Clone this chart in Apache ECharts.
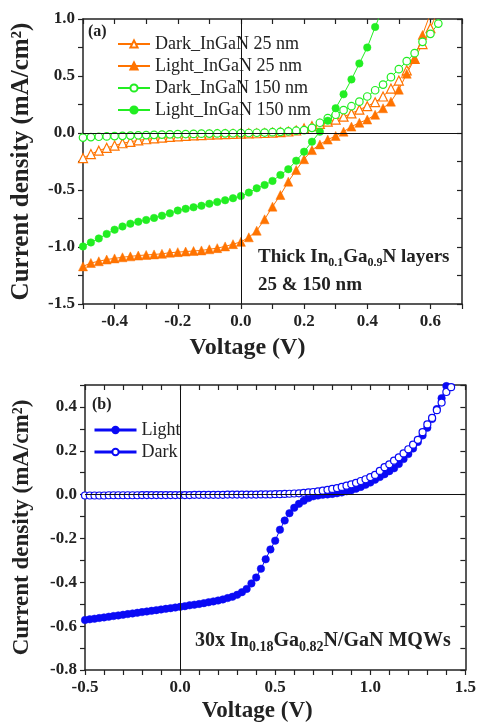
<!DOCTYPE html>
<html>
<head>
<meta charset="utf-8">
<script src="https://cdn.jsdelivr.net/npm/echarts@6/dist/echarts.min.js"></script>
<style>html,body{margin:0;padding:0;background:#fff;}#c{width:479px;height:724px;}</style>
</head>
<body>
<div id="c"></div>
<script>
// ---------- Panel (a): thick InGaN layers ----------
const voltsA = [-0.5,-0.475,-0.45,-0.425,-0.4,-0.375,-0.35,-0.325,-0.3,-0.275,-0.25,-0.225,-0.2,-0.175,-0.15,-0.125,-0.1,-0.075,-0.05,-0.025,0,0.025,0.05,0.075,0.1,0.125,0.15,0.175,0.2,0.225,0.25,0.275,0.3,0.325,0.35,0.375,0.4,0.425,0.45,0.475,0.5,0.525,0.55,0.575,0.6,0.625];
const dark25 = [-0.22,-0.185,-0.155,-0.13,-0.11,-0.09,-0.077,-0.065,-0.055,-0.047,-0.04,-0.034,-0.029,-0.025,-0.021,-0.018,-0.015,-0.012,-0.01,-0.008,-0.006,-0.004,-0.002,0.0,0.003,0.007,0.013,0.022,0.04,0.06,0.08,0.1,0.118,0.143,0.172,0.205,0.235,0.27,0.32,0.39,0.46,0.55,0.65,0.78,0.92,1.08];
const light25 = [-1.17,-1.14,-1.125,-1.11,-1.1,-1.09,-1.082,-1.075,-1.07,-1.065,-1.06,-1.05,-1.045,-1.04,-1.035,-1.03,-1.02,-1.01,-0.995,-0.975,-0.955,-0.915,-0.857,-0.757,-0.646,-0.544,-0.427,-0.325,-0.23,-0.15,-0.1,-0.058,-0.026,0.012,0.056,0.09,0.118,0.16,0.217,0.275,0.38,0.52,0.65,0.86,1.05,null];
const dark150 = [-0.04,-0.036,-0.033,-0.03,-0.027,-0.025,-0.023,-0.02,-0.018,-0.016,-0.014,-0.012,-0.01,-0.009,-0.008,-0.006,-0.005,-0.004,-0.003,-0.002,-0.001,0,0.002,0.004,0.007,0.01,0.015,0.02,0.025,0.045,0.09,0.13,0.16,0.2,0.235,0.275,0.32,0.375,0.425,0.49,0.56,0.63,0.7,0.8,0.87,0.96];
const light150 = [-0.995,-0.96,-0.925,-0.885,-0.848,-0.82,-0.795,-0.778,-0.763,-0.745,-0.725,-0.705,-0.68,-0.665,-0.652,-0.638,-0.62,-0.605,-0.59,-0.572,-0.553,-0.523,-0.485,-0.456,-0.42,-0.368,-0.318,-0.243,-0.164,-0.076,0.011,0.108,0.217,0.34,0.47,0.61,0.75,0.93,1.1,null,null,null,null,null,null,null];
const namesA = ['Dark_InGaN 25 nm','Light_InGaN 25 nm','Dark_InGaN 150 nm','Light_InGaN 150 nm'];

// ---------- Panel (b): MQWs ----------
const voltsB = [-0.5,-0.475,-0.45,-0.425,-0.4,-0.375,-0.35,-0.325,-0.3,-0.275,-0.25,-0.225,-0.2,-0.175,-0.15,-0.125,-0.1,-0.075,-0.05,-0.025,0,0.025,0.05,0.075,0.1,0.125,0.15,0.175,0.2,0.225,0.25,0.275,0.3,0.325,0.35,0.375,0.4,0.425,0.45,0.475,0.5,0.525,0.55,0.575,0.6,0.625,0.65,0.675,0.7,0.725,0.75,0.775,0.8,0.825,0.85,0.875,0.9,0.925,0.95,0.975,1.0,1.025,1.05,1.075,1.1,1.125,1.15,1.175,1.2,1.225,1.25,1.275,1.3,1.325,1.35,1.375,1.4,1.425,1.45];
const lightB = [-0.572,-0.569,-0.566,-0.563,-0.56,-0.557,-0.554,-0.551,-0.548,-0.545,-0.542,-0.539,-0.536,-0.533,-0.53,-0.527,-0.524,-0.521,-0.518,-0.515,-0.512,-0.509,-0.505,-0.502,-0.499,-0.495,-0.491,-0.487,-0.483,-0.478,-0.472,-0.466,-0.457,-0.445,-0.43,-0.405,-0.378,-0.338,-0.295,-0.25,-0.21,-0.16,-0.118,-0.085,-0.06,-0.042,-0.028,-0.016,-0.008,-0.004,-0.001,0.001,0.003,0.006,0.01,0.015,0.02,0.027,0.035,0.045,0.055,0.068,0.08,0.093,0.107,0.12,0.14,0.162,0.185,0.21,0.24,0.27,0.305,0.345,0.39,0.44,0.495,0.55,null];
const darkB = [-0.004,-0.004,-0.004,-0.004,-0.004,-0.003,-0.003,-0.003,-0.003,-0.003,-0.003,-0.003,-0.002,-0.002,-0.002,-0.002,-0.002,-0.002,-0.002,-0.002,-0.002,-0.002,-0.002,-0.001,-0.001,-0.001,-0.001,-0.001,-0.001,-0.001,0,0,0,0,0,0,0,0.001,0.001,0.001,0.002,0.002,0.003,0.004,0.005,0.006,0.008,0.01,0.012,0.015,0.018,0.022,0.026,0.03,0.035,0.041,0.047,0.054,0.062,0.07,0.08,0.09,0.108,0.125,0.138,0.155,0.17,0.188,0.207,0.228,0.25,0.285,0.32,0.35,0.385,0.42,0.468,0.49,0.53];
const namesB = ['Light','Dark'];

const ORANGE = '#FF7300', GREEN = '#22EE22', BLUE = '#0A0AF5';
const FONT = 'Liberation Serif';

function pairs(xs, ys) { return xs.map((x, i) => [x, ys[i]]); }
function labelEvery(step) {
  return v => { const k = Math.round(v * 100), s = Math.round(step * 100); return (k % s === 0) ? v.toFixed(1) : ''; };
}
const frame = { show: true, lineStyle: { color: '#222', width: 1.5 } };
const tickLbl = { fontFamily: FONT, fontWeight: 'bold', fontSize: 17, color: '#222' };
function nameTxt(size, pad) { return { fontFamily: FONT, fontWeight: 'bold', fontSize: size, color: '#222', padding: pad }; }

function xAx(grid, min, max, step, lblStep, name, gap, size, pad) {
  return [
    { type: 'value', gridIndex: grid, position: 'bottom', min, max, interval: step,
      axisLine: { ...frame, onZero: false }, splitLine: { show: false },
      axisTick: { show: true, inside: false, length: 5, lineStyle: { color: '#222', width: 1.2 } },
      axisLabel: { ...tickLbl, margin: 9, formatter: labelEvery(lblStep), showMinLabel: true, showMaxLabel: true },
      name, nameLocation: 'middle', nameGap: gap, nameTextStyle: nameTxt(size, pad) },
    { type: 'value', gridIndex: grid, position: 'top', min, max, interval: step,
      axisLine: { ...frame, onZero: false }, splitLine: { show: false },
      axisTick: { show: true, inside: true, length: 5, lineStyle: { color: '#222', width: 1.2 } },
      axisLabel: { show: false } }
  ];
}
function yAx(grid, min, max, step, lblStep, name, gap, size) {
  return [
    { type: 'value', gridIndex: grid, position: 'left', min, max, interval: step,
      axisLine: { ...frame, onZero: false }, splitLine: { show: false },
      axisTick: { show: true, inside: false, length: 5, lineStyle: { color: '#222', width: 1.2 } },
      axisLabel: { ...tickLbl, margin: 8, formatter: labelEvery(lblStep), showMinLabel: true, showMaxLabel: true },
      name, nameLocation: 'middle', nameGap: gap, nameTextStyle: nameTxt(size, 0) },
    { type: 'value', gridIndex: grid, position: 'right', min, max, interval: step,
      axisLine: { ...frame, onZero: false }, splitLine: { show: false },
      axisTick: { show: true, inside: true, length: 5, lineStyle: { color: '#222', width: 1.2 } },
      axisLabel: { show: false } }
  ];
}
const zeroLines = {
  silent: true, symbol: 'none', animation: false,
  label: { show: false },
  lineStyle: { color: '#111', width: 1, type: 'solid' },
  data: [{ xAxis: 0 }, { yAxis: 0 }]
};
function ser(name, xi, yi, data, symbol, size, color, hollow, extra) {
  return Object.assign({
    name, type: 'line', xAxisIndex: xi, yAxisIndex: yi, data,
    symbol, symbolSize: size, showSymbol: true, connectNulls: false,
    lineStyle: { color, width: 1 },
    itemStyle: hollow ? { color: '#fff', borderColor: color, borderWidth: 1.2 } : { color, borderColor: color, borderWidth: 0.5 },
    animation: false, z: 3
  }, extra || {});
}

const chart = echarts.init(document.getElementById('c'), null, { renderer: 'canvas' });
chart.setOption({
  backgroundColor: '#fff',
  animation: false,
  grid: [
    { left: 83, right: 17, top: 19, height: 285 },
    { left: 85, right: 12, top: 385, height: 288 }
  ],
  xAxis: [
    ...xAx(0, -0.5, 0.7, 0.1, 0.2, 'Voltage (V)', 32, 24, [0, 50, 0, 0]),
    ...xAx(1, -0.5, 1.5, 0.1, 0.5, 'Voltage (V)', 30, 23, [0, 36, 0, 0])
  ],
  yAxis: [
    ...yAx(0, -1.5, 1.0, 0.25, 0.5, 'Current density (mA/cm²)', 49, 25),
    ...yAx(1, -0.8, 0.5, 0.1, 0.2, 'Current density (mA/cm²)', 51, 23)
  ],
  legend: [
    { orient: 'vertical', left: 112, top: 30, itemWidth: 32, itemHeight: 9, itemGap: 4,
      textStyle: { fontFamily: FONT, fontSize: 18, color: '#222', lineHeight: 18 },
      data: namesA },
    { orient: 'vertical', left: 88, top: 416, itemWidth: 42, itemHeight: 8, itemGap: 4,
      textStyle: { fontFamily: FONT, fontSize: 18, color: '#222', lineHeight: 18 },
      data: namesB.map(n => ({ name: n, lineStyle: { width: 3 } })) }
  ],
  graphic: [
    { type: 'text', left: 88, top: 24, style: { text: '(a)', font: 'bold 16px "Liberation Serif"', fill: '#222' } },
    { type: 'text', left: 92, top: 397, style: { text: '(b)', font: 'bold 16px "Liberation Serif"', fill: '#222' } },
    { type: 'text', left: 258, top: 245, style: {
        text: '{b|Thick In}{s|0.1}{b|Ga}{s|0.9}{b|N layers}',
        rich: {
          b: { fontFamily: FONT, fontWeight: 'bold', fontSize: 19, fill: '#222', lineHeight: 22 },
          s: { fontFamily: FONT, fontWeight: 'bold', fontSize: 12, fill: '#222', lineHeight: 22, padding: [12, 0, 0, 0] }
        } } },
    { type: 'text', left: 258, top: 276, style: { text: '25 & 150 nm', font: 'bold 19px "Liberation Serif"', fill: '#222' } },
    { type: 'text', left: 195, top: 627, style: {
        text: '{b|30x In}{s|0.18}{b|Ga}{s|0.82}{b|N/GaN MQWs}',
        rich: {
          b: { fontFamily: FONT, fontWeight: 'bold', fontSize: 20, fill: '#222', lineHeight: 24 },
          s: { fontFamily: FONT, fontWeight: 'bold', fontSize: 14, fill: '#222', lineHeight: 24, padding: [13, 0, 0, 0] }
        } } }
  ],
  series: [
    ser(namesA[0], 0, 0, pairs(voltsA, dark25), 'triangle', 9, ORANGE, true, { markLine: zeroLines }),
    ser(namesA[1], 0, 0, pairs(voltsA, light25), 'triangle', 9, ORANGE, false),
    ser(namesA[2], 0, 0, pairs(voltsA, dark150), 'circle', 7.5, GREEN, true),
    ser(namesA[3], 0, 0, pairs(voltsA, light150), 'circle', 7.5, GREEN, false),
    ser(namesB[0], 2, 2, pairs(voltsB, lightB), 'circle', 7.5, BLUE, false, { markLine: zeroLines }),
    ser(namesB[1], 2, 2, pairs(voltsB, darkB), 'circle', 7, BLUE, true)
  ]
});
</script>
</body>
</html>
